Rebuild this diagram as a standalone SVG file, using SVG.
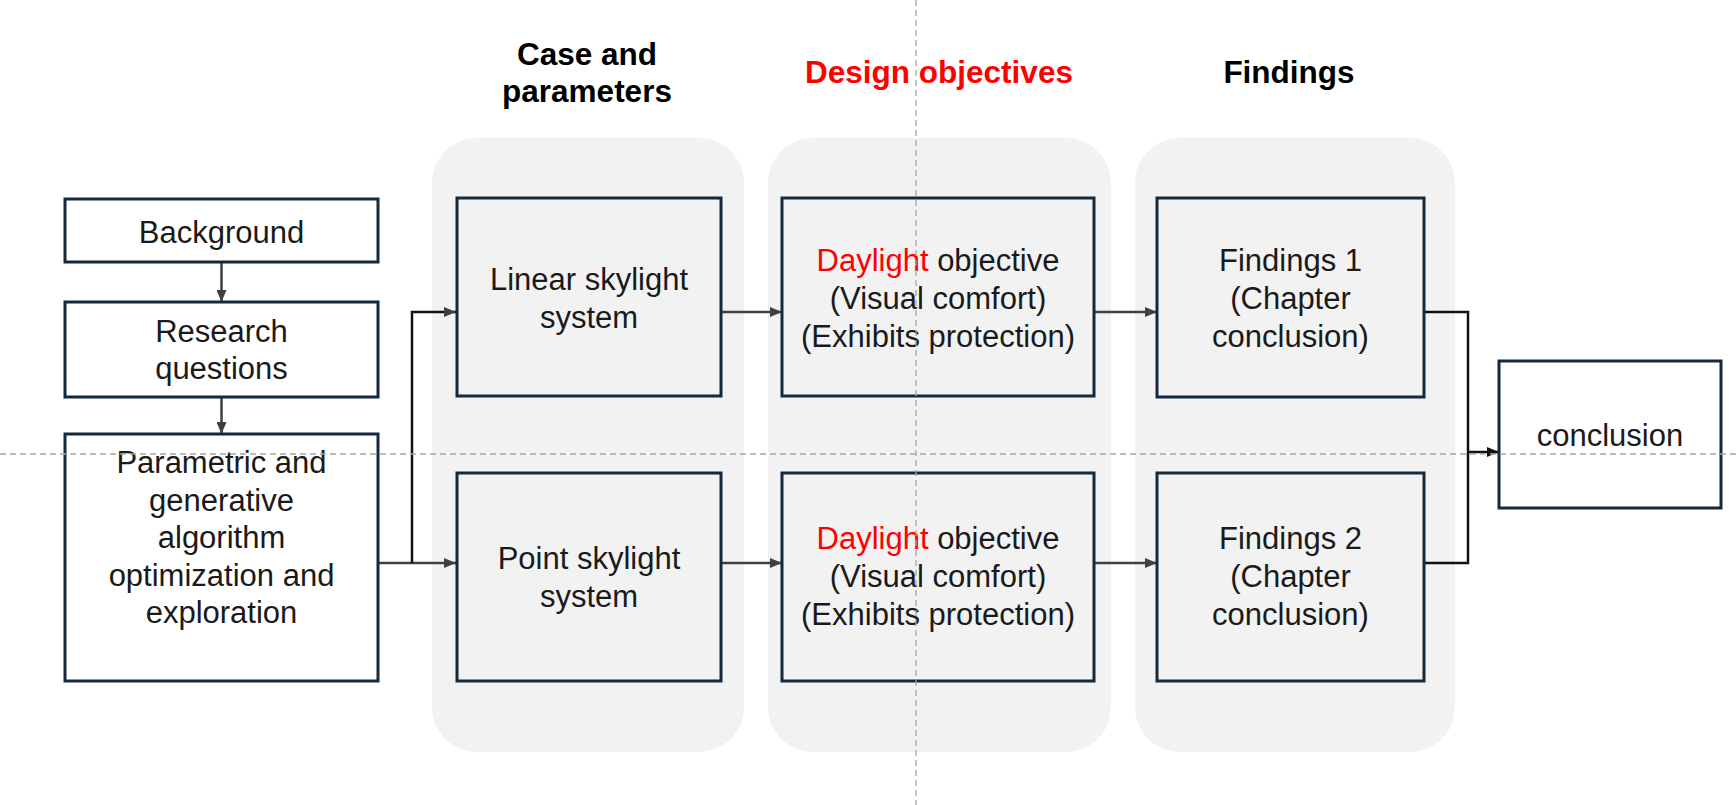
<svg xmlns="http://www.w3.org/2000/svg" width="1736" height="805" viewBox="0 0 1736 805">
<defs>
<marker id="ah" markerUnits="userSpaceOnUse" markerWidth="12" markerHeight="10" refX="12" refY="5" orient="auto"><path d="M0,0 L12,5 L0,10 z" fill="#404040"/></marker>
<marker id="ahk" markerUnits="userSpaceOnUse" markerWidth="12" markerHeight="10" refX="12" refY="5" orient="auto"><path d="M0,0 L12,5 L0,10 z" fill="#111"/></marker>
<style>
.panel{fill:#f2f2f2;stroke:none}
.box{fill:#ffffff;stroke:#13293d;stroke-width:3}
.gbox{fill:#f2f2f2;stroke:#13293d;stroke-width:3}
.t{font-family:"Liberation Sans",Arial,sans-serif;font-size:31px;fill:#1a1a1a;text-anchor:middle}
.h{font-family:"Liberation Sans",Arial,sans-serif;font-size:31.5px;font-weight:bold;fill:#000;text-anchor:middle}
.red{fill:#ff0000}
.c{fill:none;stroke:#404040;stroke-width:2.5}
.ck{fill:none;stroke:#111;stroke-width:2.5}
.dash{stroke:#a6a6a6;stroke-width:1.3;stroke-dasharray:6 4;fill:none}
</style>
</defs>
<g id="panels">
<rect class="panel" x="432" y="138" width="312" height="614" rx="45"/>
<rect class="panel" x="768" y="138" width="343" height="614" rx="45"/>
<rect class="panel" x="1135" y="138" width="320" height="614" rx="45"/>
</g>
<g id="headers">
<text class="h" x="587" y="65">Case and</text>
<text class="h" x="587" y="102">parameters</text>
<text class="h red" x="939" y="83">Design objectives</text>
<text class="h" x="1289" y="83">Findings</text>
</g>
<g id="connectors">
<line class="c" x1="221.5" y1="262" x2="221.5" y2="302" marker-end="url(#ah)"/>
<line class="c" x1="221.5" y1="397" x2="221.5" y2="434" marker-end="url(#ah)"/>
<line class="c" x1="378" y1="563" x2="456" y2="563" marker-end="url(#ah)"/>
<polyline class="ck" points="412,563 412,312 456,312" marker-end="url(#ah)"/>
<line class="c" x1="721" y1="312" x2="782" y2="312" marker-end="url(#ah)"/>
<line class="c" x1="721" y1="563" x2="782" y2="563" marker-end="url(#ah)"/>
<line class="c" x1="1094" y1="312" x2="1157" y2="312" marker-end="url(#ah)"/>
<line class="c" x1="1094" y1="563" x2="1157" y2="563" marker-end="url(#ah)"/>
<polyline class="ck" points="1424,312 1468,312 1468,563 1424,563"/>
<line class="ck" x1="1468" y1="452" x2="1499" y2="452" marker-end="url(#ahk)"/>
</g>
<g id="background">
<rect class="box" x="65" y="199" width="313" height="63"/>
<text class="t" x="221.5" y="243">Background</text>
</g>
<g id="research">
<rect class="box" x="65" y="302" width="313" height="95"/>
<text class="t" x="221.5" y="342">Research</text>
<text class="t" x="221.5" y="379">questions</text>
</g>
<g id="parametric">
<rect class="box" x="65" y="434" width="313" height="247"/>
<text class="t" x="221.5" y="473">Parametric and</text>
<text class="t" x="221.5" y="510.5">generative</text>
<text class="t" x="221.5" y="548">algorithm</text>
<text class="t" x="221.5" y="585.5">optimization and</text>
<text class="t" x="221.5" y="623">exploration</text>
</g>
<g id="linear">
<rect class="gbox" x="457" y="198" width="264" height="198"/>
<text class="t" x="589" y="290">Linear skylight</text>
<text class="t" x="589" y="328">system</text>
</g>
<g id="point">
<rect class="gbox" x="457" y="473" width="264" height="208"/>
<text class="t" x="589" y="569">Point skylight</text>
<text class="t" x="589" y="607">system</text>
</g>
<g id="daylight1">
<rect class="gbox" x="782" y="198" width="312" height="198"/>
<text class="t" x="938" y="271"><tspan class="red">Daylight</tspan> objective</text>
<text class="t" x="938" y="309">(Visual comfort)</text>
<text class="t" x="938" y="347">(Exhibits protection)</text>
</g>
<g id="daylight2">
<rect class="gbox" x="782" y="473" width="312" height="208"/>
<text class="t" x="938" y="549"><tspan class="red">Daylight</tspan> objective</text>
<text class="t" x="938" y="587">(Visual comfort)</text>
<text class="t" x="938" y="625">(Exhibits protection)</text>
</g>
<g id="findings1">
<rect class="gbox" x="1157" y="198" width="267" height="199"/>
<text class="t" x="1290.5" y="271">Findings 1</text>
<text class="t" x="1290.5" y="309">(Chapter</text>
<text class="t" x="1290.5" y="347">conclusion)</text>
</g>
<g id="findings2">
<rect class="gbox" x="1157" y="473" width="267" height="208"/>
<text class="t" x="1290.5" y="549">Findings 2</text>
<text class="t" x="1290.5" y="587">(Chapter</text>
<text class="t" x="1290.5" y="625">conclusion)</text>
</g>
<g id="conclusion">
<rect class="box" x="1499" y="361" width="222" height="147"/>
<text class="t" x="1610" y="446">conclusion</text>
</g>
<g id="guides">
<line class="dash" x1="0" y1="454" x2="1736" y2="454"/>
<line class="dash" x1="916" y1="0" x2="916" y2="805"/>
</g>
</svg>
